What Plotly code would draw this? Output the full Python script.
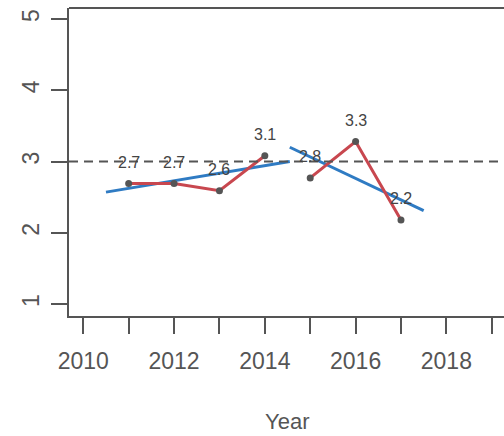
import plotly.graph_objects as go

years = [2011, 2012, 2013, 2014, 2015, 2016, 2017]
values = [2.69, 2.69, 2.59, 3.08, 2.77, 3.28, 2.18]
labels = ["2.7", "2.7", "2.6", "3.1", "2.8", "3.3", "2.2"]
seg1_years = [2011, 2012, 2013, 2014]
seg1_values = [2.69, 2.69, 2.59, 3.08]
seg2_years = [2015, 2016, 2017]
seg2_values = [2.77, 3.28, 2.18]
trend1_x = [2010.5, 2014.55]
trend1_y = [2.57, 3.0]
trend2_x = [2014.55, 2017.5]
trend2_y = [3.2, 2.31]
ref_value = 3
x_ticks = [2010, 2012, 2014, 2016, 2018]
y_ticks = [1, 2, 3, 4, 5]

RED = "#c8474f"
BLUE = "#2f7bc3"
GRAY = "#555555"
FONT = "Liberation Sans, Arial, sans-serif"

fig = go.Figure()
fig.add_trace(go.Scatter(x=trend1_x, y=trend1_y, mode="lines",
                         line=dict(color=BLUE, width=3), showlegend=False, hoverinfo="skip"))
fig.add_trace(go.Scatter(x=trend2_x, y=trend2_y, mode="lines",
                         line=dict(color=BLUE, width=3), showlegend=False, hoverinfo="skip"))
fig.add_trace(go.Scatter(x=seg1_years, y=seg1_values, mode="lines",
                         line=dict(color=RED, width=3), showlegend=False))
fig.add_trace(go.Scatter(x=seg2_years, y=seg2_values, mode="lines",
                         line=dict(color=RED, width=3), showlegend=False))
fig.add_trace(go.Scatter(x=years, y=values, mode="markers",
                         marker=dict(color=GRAY, size=7), showlegend=False))

for x, y, t in zip(years, values, labels):
    fig.add_annotation(x=x, y=y, text=t, showarrow=False, yshift=21,
                       font=dict(family=FONT, size=16, color="#444444"))

fig.add_shape(type="line", xref="paper", x0=0, x1=1, y0=ref_value, y1=ref_value,
              line=dict(color=GRAY, width=2, dash="9px,6px"))
fig.add_shape(type="line", xref="paper", yref="paper", x0=0, x1=1, y0=1, y1=1,
              line=dict(color=GRAY, width=2))

fig.add_annotation(text="Year", xref="paper", yref="paper", x=0.501, y=-0.341,
                   showarrow=False, xanchor="center", yanchor="middle",
                   font=dict(family=FONT, size=22, color=GRAY))

fig.update_layout(
    width=504, height=436,
    margin=dict(l=69, r=0, t=8, b=120),
    plot_bgcolor="white", paper_bgcolor="white",
    font=dict(family=FONT, color=GRAY),
    xaxis=dict(range=[2009.685, 2019.27], tickvals=x_ticks, ticks="outside",
               ticklen=16, tickwidth=2, tickcolor=GRAY,
               minor=dict(dtick=1, tick0=2010, ticks="outside", ticklen=16,
                          tickwidth=2, tickcolor=GRAY),
               showline=True, linecolor=GRAY, linewidth=2, showgrid=False,
               zeroline=False, tickfont=dict(family=FONT, size=23, color=GRAY),
               ticklabelstandoff=7),
    yaxis=dict(range=[0.832, 5.154], tickvals=y_ticks, ticks="outside",
               ticklen=16, tickwidth=2, tickcolor=GRAY, tickangle=-90,
               showline=True, linecolor=GRAY, linewidth=2, showgrid=False,
               zeroline=False, tickfont=dict(family=FONT, size=23, color=GRAY),
               ticklabelstandoff=3),
)

fig.write_html("out.html", config={"displayModeBar": False},
               post_script="document.body.style.margin='0';document.body.style.padding='0';")
